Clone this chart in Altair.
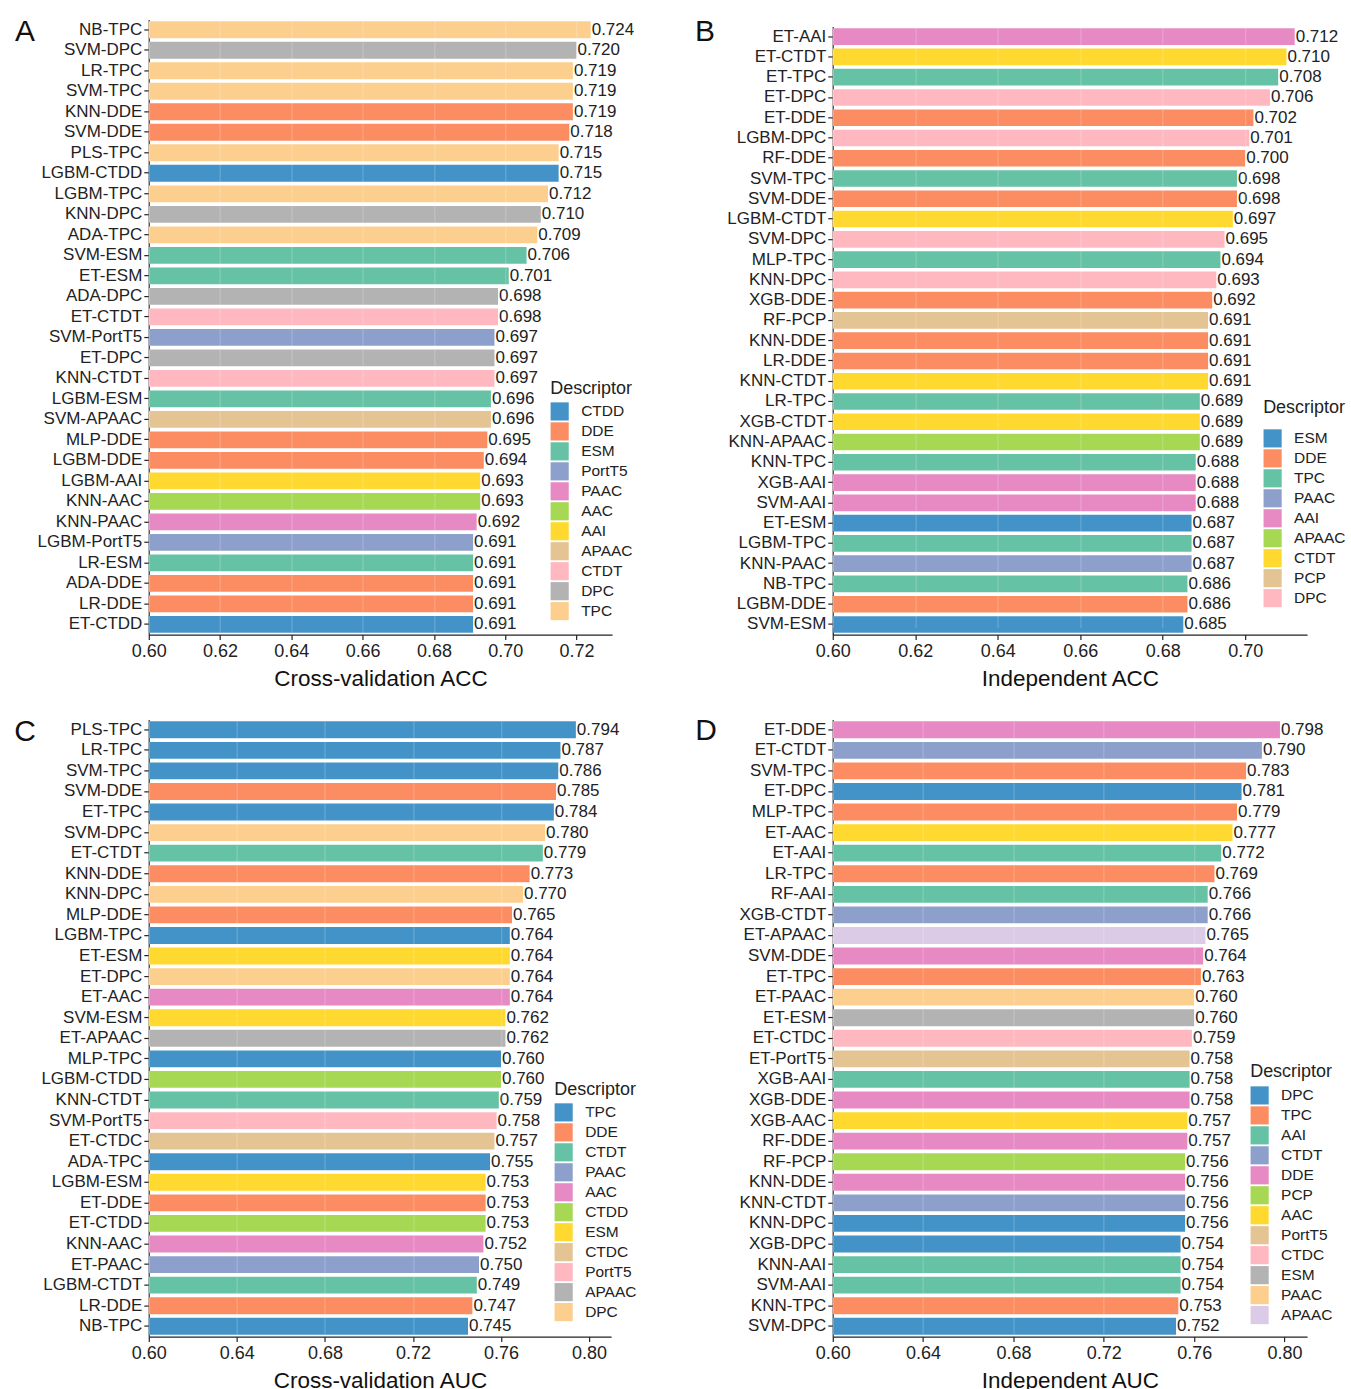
import altair as alt
import pandas as pd

FONT = "Liberation Sans"
PALETTE = ["#4393c8", "#fc8d62", "#66c2a5", "#8da0cb", "#e78ac3", "#a6d854",
           "#ffd92f", "#e5c494", "#ffb8c0", "#b3b3b3", "#fdcf8e", "#dccbe6"]

# Panel A: Cross-validation ACC
names_a = ["NB-TPC", "SVM-DPC", "LR-TPC", "SVM-TPC", "KNN-DDE", "SVM-DDE", "PLS-TPC",
           "LGBM-CTDD", "LGBM-TPC", "KNN-DPC", "ADA-TPC", "SVM-ESM", "ET-ESM", "ADA-DPC",
           "ET-CTDT", "SVM-PortT5", "ET-DPC", "KNN-CTDT", "LGBM-ESM", "SVM-APAAC", "MLP-DDE",
           "LGBM-DDE", "LGBM-AAI", "KNN-AAC", "KNN-PAAC", "LGBM-PortT5", "LR-ESM", "ADA-DDE",
           "LR-DDE", "ET-CTDD"]
vals_a = [0.724, 0.720, 0.719, 0.719, 0.719, 0.718, 0.715, 0.715, 0.712, 0.710, 0.709, 0.706,
          0.701, 0.698, 0.698, 0.697, 0.697, 0.697, 0.696, 0.696, 0.695, 0.694, 0.693, 0.693,
          0.692, 0.691, 0.691, 0.691, 0.691, 0.691]
legend_a = ["CTDD", "DDE", "ESM", "PortT5", "PAAC", "AAC", "AAI", "APAAC", "CTDT", "DPC", "TPC"]
ticks_a = [0.60, 0.62, 0.64, 0.66, 0.68, 0.70, 0.72]

# Panel B: Independent ACC
names_b = ["ET-AAI", "ET-CTDT", "ET-TPC", "ET-DPC", "ET-DDE", "LGBM-DPC", "RF-DDE", "SVM-TPC",
           "SVM-DDE", "LGBM-CTDT", "SVM-DPC", "MLP-TPC", "KNN-DPC", "XGB-DDE", "RF-PCP",
           "KNN-DDE", "LR-DDE", "KNN-CTDT", "LR-TPC", "XGB-CTDT", "KNN-APAAC", "KNN-TPC",
           "XGB-AAI", "SVM-AAI", "ET-ESM", "LGBM-TPC", "KNN-PAAC", "NB-TPC", "LGBM-DDE", "SVM-ESM"]
vals_b = [0.712, 0.710, 0.708, 0.706, 0.702, 0.701, 0.700, 0.698, 0.698, 0.697, 0.695, 0.694,
          0.693, 0.692, 0.691, 0.691, 0.691, 0.691, 0.689, 0.689, 0.689, 0.688, 0.688, 0.688,
          0.687, 0.687, 0.687, 0.686, 0.686, 0.685]
legend_b = ["ESM", "DDE", "TPC", "PAAC", "AAI", "APAAC", "CTDT", "PCP", "DPC"]
ticks_b = [0.60, 0.62, 0.64, 0.66, 0.68, 0.70]

# Panel C: Cross-validation AUC
names_c = ["PLS-TPC", "LR-TPC", "SVM-TPC", "SVM-DDE", "ET-TPC", "SVM-DPC", "ET-CTDT", "KNN-DDE",
           "KNN-DPC", "MLP-DDE", "LGBM-TPC", "ET-ESM", "ET-DPC", "ET-AAC", "SVM-ESM", "ET-APAAC",
           "MLP-TPC", "LGBM-CTDD", "KNN-CTDT", "SVM-PortT5", "ET-CTDC", "ADA-TPC", "LGBM-ESM",
           "ET-DDE", "ET-CTDD", "KNN-AAC", "ET-PAAC", "LGBM-CTDT", "LR-DDE", "NB-TPC"]
vals_c = [0.794, 0.787, 0.786, 0.785, 0.784, 0.780, 0.779, 0.773, 0.770, 0.765, 0.764, 0.764,
          0.764, 0.764, 0.762, 0.762, 0.760, 0.760, 0.759, 0.758, 0.757, 0.755, 0.753, 0.753,
          0.753, 0.752, 0.750, 0.749, 0.747, 0.745]
legend_c = ["TPC", "DDE", "CTDT", "PAAC", "AAC", "CTDD", "ESM", "CTDC", "PortT5", "APAAC", "DPC"]
ticks_c = [0.60, 0.64, 0.68, 0.72, 0.76, 0.80]

# Panel D: Independent AUC
names_d = ["ET-DDE", "ET-CTDT", "SVM-TPC", "ET-DPC", "MLP-TPC", "ET-AAC", "ET-AAI", "LR-TPC",
           "RF-AAI", "XGB-CTDT", "ET-APAAC", "SVM-DDE", "ET-TPC", "ET-PAAC", "ET-ESM", "ET-CTDC",
           "ET-PortT5", "XGB-AAI", "XGB-DDE", "XGB-AAC", "RF-DDE", "RF-PCP", "KNN-DDE",
           "KNN-CTDT", "KNN-DPC", "XGB-DPC", "KNN-AAI", "SVM-AAI", "KNN-TPC", "SVM-DPC"]
vals_d = [0.798, 0.790, 0.783, 0.781, 0.779, 0.777, 0.772, 0.769, 0.766, 0.766, 0.765, 0.764,
          0.763, 0.760, 0.760, 0.759, 0.758, 0.758, 0.758, 0.757, 0.757, 0.756, 0.756, 0.756,
          0.756, 0.754, 0.754, 0.754, 0.753, 0.752]
legend_d = ["DPC", "TPC", "AAI", "CTDT", "DDE", "PCP", "AAC", "PortT5", "CTDC", "ESM", "PAAC", "APAAC"]
ticks_d = [0.60, 0.64, 0.68, 0.72, 0.76, 0.80]


def panel(names, vals, legend_order, ticks, xmax, width, height, xtitle, letter,
          letter_x, letter_y, lx, ly, tpad, yrange=None):
    df = pd.DataFrame({
        "model": names,
        "value": vals,
        "desc": [n.split("-", 1)[1] for n in names],
    })
    base = alt.Chart(df)
    xscale = alt.Scale(domain=[0.60, xmax], nice=False, zero=False)
    if yrange is not None:
        ysc = alt.Scale(paddingInner=0.18, paddingOuter=0.09, range=yrange)
    else:
        ysc = alt.Scale(paddingInner=0.18, paddingOuter=0.09)
    yenc = alt.Y("model:N", sort=names, title=None, scale=ysc,
                 axis=alt.Axis(labelPadding=2, tickSize=5))
    color = alt.Color(
        "desc:N",
        scale=alt.Scale(domain=legend_order, range=PALETTE[:len(legend_order)]),
        legend=alt.Legend(title="Descriptor", orient="none", legendX=lx, legendY=ly,
                          titlePadding=tpad),
    )
    bars = base.mark_bar().encode(
        x=alt.X("value:Q", scale=xscale, title=xtitle,
                axis=alt.Axis(values=ticks, format=".2f", grid=True, gridColor="white",
                              gridOpacity=0.2, gridWidth=1.2, zindex=1, labelFlush=False,
                              labelPadding=3, titlePadding=7, tickSize=5)),
        x2=alt.datum(0.60),
        y=yenc,
        color=color,
    )
    labels = base.mark_text(align="left", baseline="middle", dx=1, fontSize=17,
                            font=FONT, color="#222222").encode(
        x=alt.X("value:Q", scale=xscale),
        y=alt.Y("model:N", sort=names),
        text=alt.Text("value:Q", format=".3f"),
    )
    lett = alt.Chart(pd.DataFrame({"t": [letter]})).mark_text(
        align="center", baseline="middle", fontSize=30, font=FONT, color="#111111"
    ).encode(x=alt.value(letter_x), y=alt.value(letter_y), text="t:N")
    return alt.layer(bars, labels, lett).properties(width=width, height=height)


pA = panel(names_a, vals_a, legend_a, ticks_a, 0.73, 464, 616, "Cross-validation ACC", "A",
           -124, 12.5, 402, 361, 4)
pB = panel(names_b, vals_b, legend_b, ticks_b, 0.715, 475, 616, "Independent ACC", "B",
           -128, 12.5, 431, 380, 12, yrange=[7, 616])
pC = panel(names_c, vals_c, legend_c, ticks_c, 0.81, 463, 618, "Cross-validation AUC", "C",
           -124, 13, 406, 362, 4)
pD = panel(names_d, vals_d, legend_d, ticks_d, 0.81, 475, 618, "Independent AUC", "D",
           -127, 12, 418, 344, 5)

chart = alt.concat(pA, pB, pC, pD, columns=2,
                   spacing=alt.RowColnumber(column=57, row=26)).resolve_scale(
    color="independent", y="independent", x="independent"
).properties(
    padding={"left": 14, "top": 15.5, "right": 5, "bottom": 5},
    background="white",
).configure_view(stroke=None).configure_axis(
    labelFont=FONT, labelFontSize=17, labelColor="#222222",
    titleFont=FONT, titleFontSize=22.5, titleFontWeight="normal", titleColor="#111111",
    domainColor="#222222", domainWidth=1.3, tickColor="#222222", tickWidth=1.2,
).configure_axisX(
    labelFontSize=18,
).configure_legend(
    labelFont=FONT, labelFontSize=15.5, labelColor="#222222",
    titleFont=FONT, titleFontSize=18, titleFontWeight="normal", titleColor="#222222",
    symbolType="square", symbolSize=330, symbolStrokeWidth=0, symbolOpacity=1,
    rowPadding=1, labelOffset=12, padding=0,
)

chart.save("out.html", embed_options={"renderer": "svg", "actions": False})
